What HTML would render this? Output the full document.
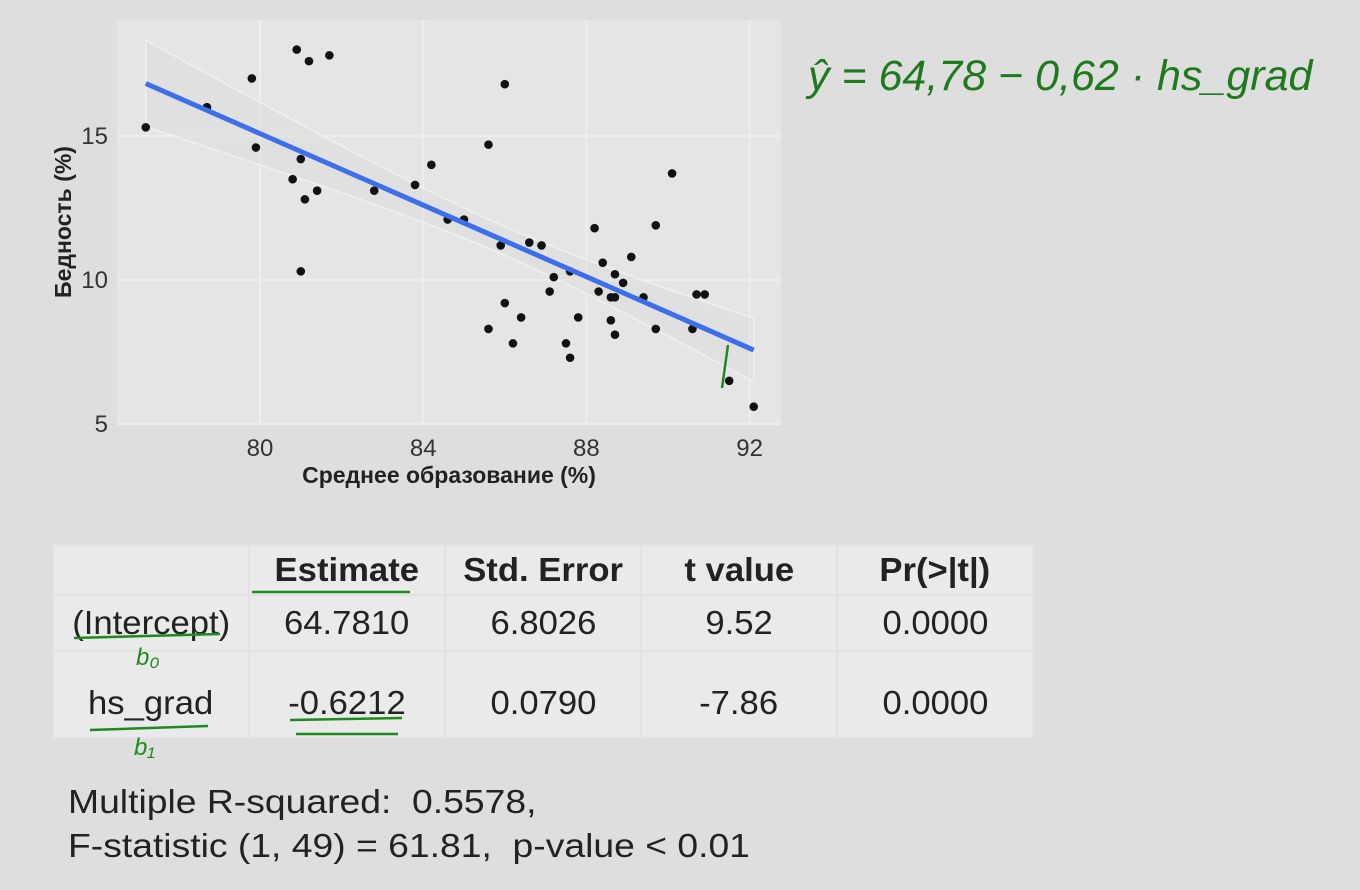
<!DOCTYPE html>
<html><head><meta charset="utf-8"><style>
body{margin:0;width:1360px;height:890px;background:#dedede;font-family:"Liberation Sans",sans-serif;position:relative;overflow:hidden}
svg{position:absolute;left:0;top:0;z-index:2}
table{position:absolute;left:52px;top:544px;border-collapse:collapse;font-size:33px;color:#222;table-layout:fixed;width:980px;z-index:1}
td{text-align:center;background:#eaeaea;border:2px solid #e2e2e2;padding:0;box-sizing:border-box;overflow:visible;white-space:nowrap}
td span{display:inline-block;transform:scaleX(1.05)}
.stats{position:absolute;left:68px;top:780px;font-size:33px;color:#222;line-height:44px;transform:scaleX(1.13);transform-origin:0 0;white-space:nowrap}
.r2 td{vertical-align:top;padding-top:32px}
</style></head><body>
<svg id="chart" width="1360" height="890"></svg>
<table>
<colgroup><col style="width:196px"><col style="width:196px"><col style="width:196px"><col style="width:196px"><col style="width:196px"></colgroup>
<tr style="height:50px"><td></td><td style="font-weight:bold"><span>Estimate</span></td><td style="font-weight:bold"><span>Std. Error</span></td><td style="font-weight:bold"><span>t value</span></td><td style="font-weight:bold"><span>Pr(&gt;|t|)</span></td></tr>
<tr style="height:56px"><td><span>(Intercept)</span></td><td><span>64.7810</span></td><td><span>6.8026</span></td><td><span>9.52</span></td><td><span>0.0000</span></td></tr>
<tr class="r2" style="height:87px"><td><span>hs_grad</span></td><td><span>-0.6212</span></td><td><span>0.0790</span></td><td><span>-7.86</span></td><td><span>0.0000</span></td></tr>
</table>
<div class="stats">Multiple R-squared:&nbsp; 0.5578,<br>F-statistic (1, 49) = 61.81,&nbsp; p-value &lt; 0.01</div>
<script>
const xs=[77.2,78.7,79.8,79.9,80.8,80.9,81.0,81.0,81.1,81.2,81.4,81.7,82.8,83.8,84.2,84.6,85.0,85.6,85.6,86.0,85.9,86.0,86.2,86.4,86.6,86.9,87.1,87.2,87.5,87.6,87.6,87.8,88.2,88.3,88.4,88.6,88.6,88.7,88.7,88.7,88.9,89.1,89.4,89.7,89.7,90.1,90.6,90.7,90.9,91.5,92.1];
const ys=[15.3,16.0,17.0,14.6,13.5,18.0,14.2,10.3,12.8,17.6,13.1,17.8,13.1,13.3,14.0,12.1,12.1,8.3,14.7,16.8,11.2,9.2,7.8,8.7,11.3,11.2,9.6,10.1,7.8,7.3,10.3,8.7,11.8,9.6,10.6,8.6,9.4,9.4,10.2,8.1,9.9,10.8,9.4,11.9,8.3,13.7,8.3,9.5,9.5,6.5,5.6];
const xTicks=[80,84,88,92];
const yTicks=[5,10,15];
const b0=64.78, b1=-0.6212;
const NS="http://www.w3.org/2000/svg";
const svg=document.getElementById('chart');
const X=v=>260+(v-80)*40.8, Y=v=>136-(v-15)*28.8;
function el(t,a){const e=document.createElementNS(NS,t);for(const k in a)e.setAttribute(k,a[k]);svg.appendChild(e);return e;}
const panel=el('rect',{x:117,y:20,width:664,height:405,fill:'#e5e5e5'});


xTicks.forEach(t=>{const g=el('line',{x1:X(t),x2:X(t),y1:20,y2:425,stroke:'#eeeeee','stroke-width':2});


const l=el('text',{x:X(t),y:456,'font-size':24,'text-anchor':'middle',fill:'#333'});l.textContent=t;

});
yTicks.forEach(t=>{const g=el('line',{x1:117,x2:781,y1:Y(t),y2:Y(t),stroke:'#eeeeee','stroke-width':2});


const l=el('text',{x:108,y:Y(t)+8,'font-size':24,'text-anchor':'end',fill:'#333'});l.textContent=t;

});
const x0=Math.min(...xs),x1=Math.max(...xs);
const mx=xs.reduce((a,b)=>a+b,0)/xs.length;
let up=[],lo=[];
for(let i=0;i<=40;i++){const x=x0+(x1-x0)*i/40;const yh=b0+b1*x;const se=Math.sqrt(0.25+0.0258*(x-mx)*(x-mx));up.push(X(x)+','+Y(yh+se));lo.unshift(X(x)+','+Y(yh-se));}
const band=el('polygon',{points:up.concat(lo).join(' '),fill:'#dcdcdc','fill-opacity':0.5,stroke:'#f0f0f0','stroke-width':1.5});


xs.forEach((x,i)=>{const c=el('circle',{cx:X(x),cy:Y(ys[i]),r:4.3,fill:'#111'});

});
const line=el('line',{x1:X(x0),y1:Y(b0+b1*x0),x2:X(x1),y2:Y(b0+b1*x1),stroke:'#3d6fea','stroke-width':5});


const xt=el('text',{x:449,y:483,'font-size':23,'font-weight':'bold','text-anchor':'middle',fill:'#222'});xt.textContent='Среднее образование (%)';


const yt=el('text',{x:0,y:0,'font-size':23,'font-weight':'bold','text-anchor':'middle',fill:'#222',transform:'translate(71,222) rotate(-90)'});yt.textContent='Бедность (%)';


const eq=el('text',{x:808,y:90,'font-size':43,fill:'#1d7a1d','font-style':'italic'});eq.textContent='ŷ = 64,78 − 0,62 · hs_grad';


[[252,592,410,592],[74,638,220,634],[90,730,208,726],[290,720,402,718],[296,734,398,734],[728,345,722,388]].forEach(p=>{const u=el('line',{x1:p[0],y1:p[1],x2:p[2],y2:p[3],stroke:'#1d8a1d','stroke-width':2.5});

});
[['b₀',136,665],['b₁',134,755]].forEach(p=>{const t=el('text',{x:p[1],y:p[2],'font-size':24,'font-style':'italic',fill:'#1d8a1d'});t.textContent=p[0];

});
</script>
</body></html>
